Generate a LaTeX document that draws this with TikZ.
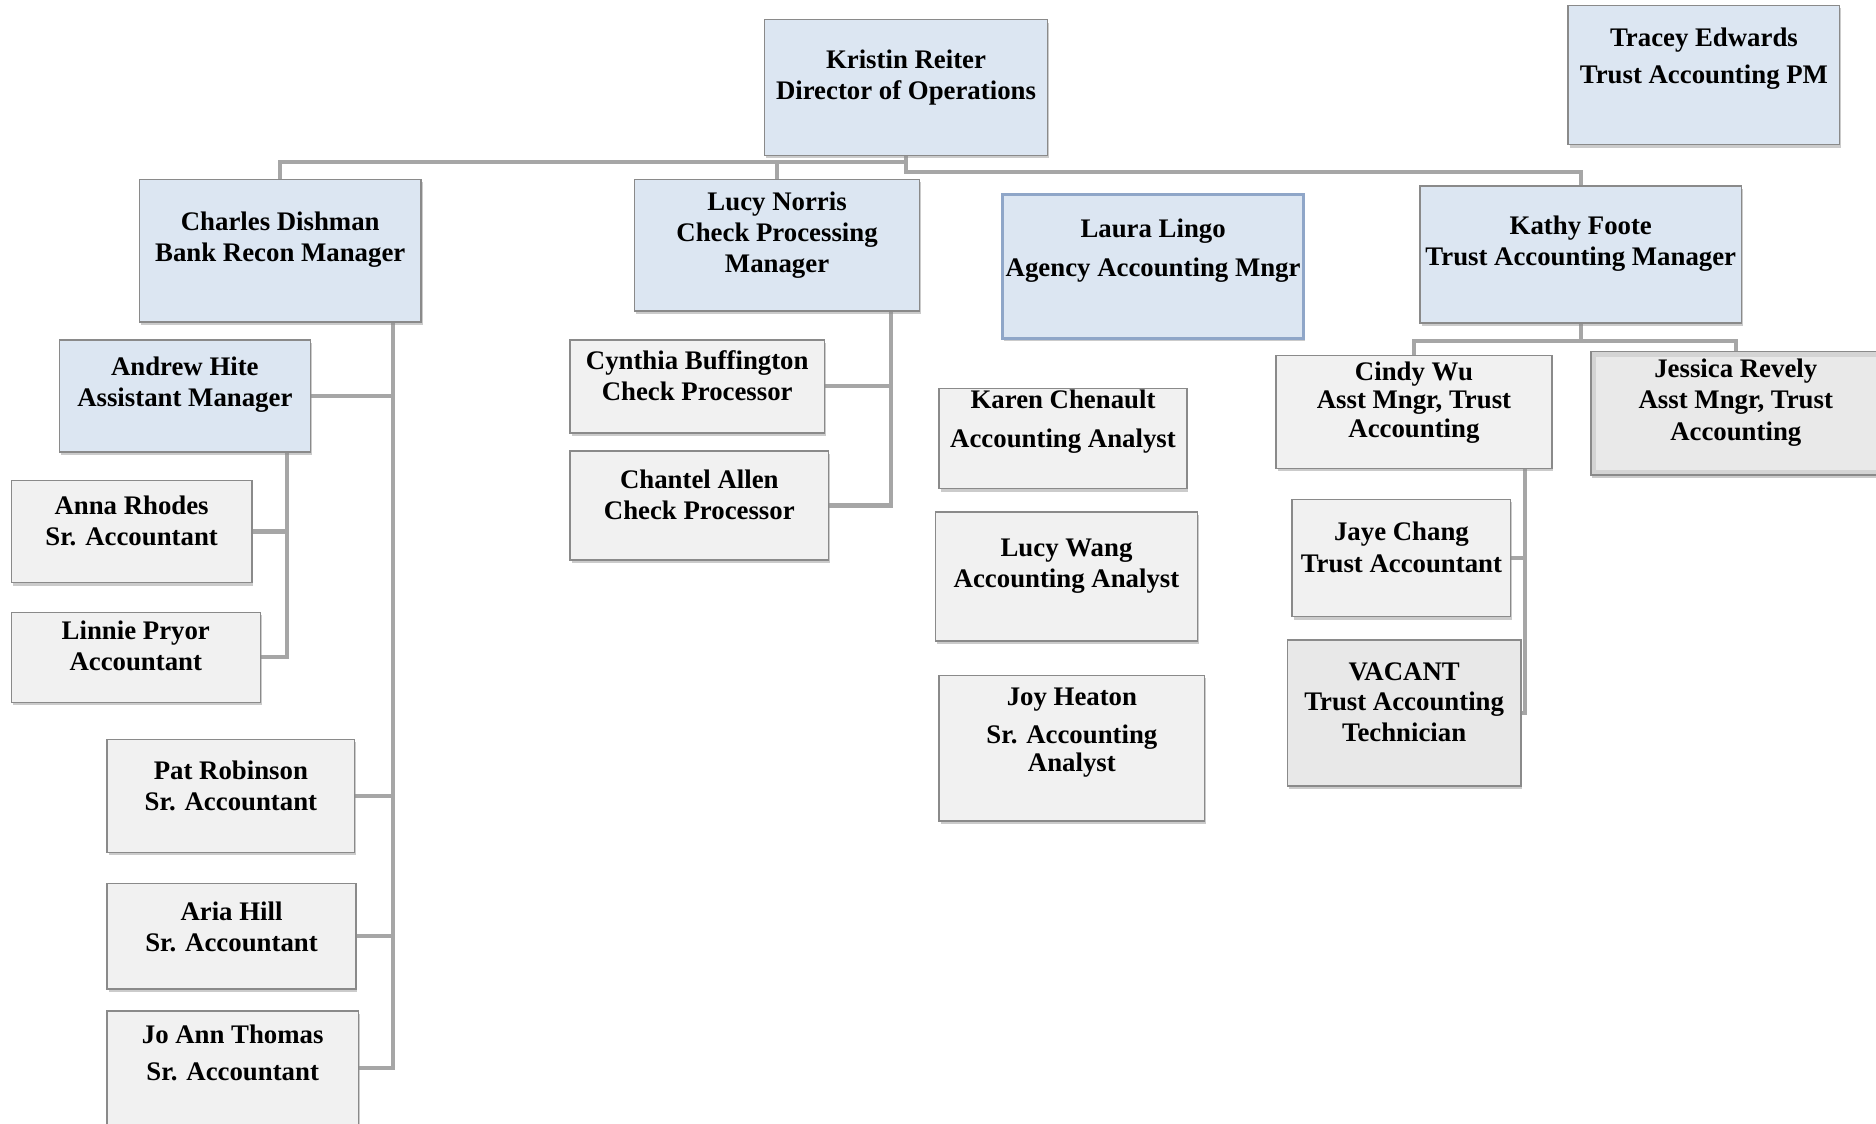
\documentclass[tikz,border=0pt]{standalone}
\usepackage{fontspec}
\setmainfont{Liberation Serif}
\usetikzlibrary{shadows,backgrounds}
\definecolor{bluefill}{HTML}{DCE6F2}
\definecolor{grayfill}{HTML}{F1F1F1}
\definecolor{vacfill}{HTML}{E8E8E8}
\definecolor{jessband}{HTML}{D4D4D4}
\definecolor{jessin}{HTML}{E9E9E9}
\definecolor{boxline}{HTML}{8A8A8A}
\definecolor{lauraline}{HTML}{8FA6C8}
\definecolor{connline}{HTML}{A6A6A6}
\newcommand\orgbox[8]{%
  \node[#2, minimum width={(#5-#3)*0.5pt}, minimum height={(#6-#4)*0.5pt}]
    (#1) at ({(#3+#5)/2},{(#4+#6)/2}) {};
  \node[txt] (#1-t) at ({(#3+#5)/2},{#7+2.5}) {#8};
}
\begin{document}
\begin{tikzpicture}[x=0.5pt,y=-0.5pt,
  basebox/.style={rectangle, inner sep=0pt, draw=boxline, line width=0.6pt,
    drop shadow={shadow xshift=0.6pt, shadow yshift=-1.2pt, fill=black!45, opacity=0.45}},
  bluebox/.style={basebox, fill=bluefill},
  laurabox/.style={basebox, fill=bluefill, draw=lauraline, line width=1pt},
  graybox/.style={basebox, fill=grayfill},
  vacbox/.style={basebox, fill=vacfill},
  jessbox/.style={basebox, fill=jessband,
    path picture={\fill[jessin] ([xshift=2.2pt,yshift=-2.2pt]path picture bounding box.north west)
      rectangle ([xshift=-2.2pt,yshift=2.2pt]path picture bounding box.south east);}},
  txt/.style={align=center, inner sep=0pt, font=\fontsize{11.2}{13}\selectfont\bfseries},
  conn/.style={draw=connline, line width=1.7pt, line join=miter}]
\useasboundingbox (0,0) rectangle (1568,939);

\orgbox{kristin}{bluebox}{639}{16.5}{875.5}{130}{62}{Kristin Reiter\\Director of Operations}
\orgbox{tracey}{bluebox}{1310.7}{4.5}{1537.7}{121}{46.5}{Tracey Edwards\\[2.5pt]Trust Accounting PM}
\orgbox{charles}{bluebox}{116.5}{150}{352}{269}{198}{Charles Dishman\\Bank Recon Manager}
\orgbox{lucyn}{bluebox}{530.5}{150}{768.5}{260}{194}{Lucy Norris\\Check Processing\\Manager}
\orgbox{laura}{laurabox}{838}{162.7}{1089.6}{283}{207}{Laura Lingo\\[3pt]Agency Accounting Mngr}
\orgbox{kathy}{bluebox}{1187}{155.5}{1455.5}{270}{201}{Kathy Foote\\Trust Accounting Manager}
\orgbox{andrew}{bluebox}{49.5}{284}{259.5}{377.6}{319}{Andrew Hite\\Assistant Manager}
\orgbox{anna}{graybox}{9.5}{401.5}{210.5}{487}{433}{Anna Rhodes\\Sr. Accountant}
\orgbox{linnie}{graybox}{9.5}{512}{217.5}{587}{537.5}{Linnie Pryor\\Accountant}
\orgbox{pat}{graybox}{89.5}{618}{296.5}{712.5}{654}{Pat Robinson\\Sr. Accountant}
\orgbox{aria}{graybox}{89.5}{738.5}{297.5}{826.7}{772}{Aria Hill\\Sr. Accountant}
\orgbox{joann}{graybox}{89.5}{845}{299.5}{941}{877.5}{Jo Ann Thomas\\[2.5pt]Sr. Accountant}
\orgbox{cynthia}{graybox}{476.5}{284}{689}{362}{311.5}{Cynthia Buffington\\Check Processor}
\orgbox{chantel}{graybox}{476.5}{377}{692.5}{468}{411}{Chantel Allen\\Check Processor}
\orgbox{karen}{graybox}{785}{324.5}{992}{408.4}{350}{Karen Chenault\\[3pt]Accounting Analyst}
\orgbox{lucyw}{graybox}{782}{427.8}{1000.8}{535.6}{471}{Lucy Wang\\Accounting Analyst}
\orgbox{joy}{graybox}{785}{564.4}{1006.8}{686.2}{609.5}{Joy Heaton\\[3pt]Sr. Accounting\\[-1.5pt]Analyst}
\orgbox{cindy}{graybox}{1066.6}{297}{1297}{391.6}{334}{Cindy Wu\\[-1pt]Asst Mngr, Trust\\[-1pt]Accounting}
\orgbox{jessica}{jessbox}{1329.6}{294}{1572}{397}{334}{Jessica Revely\\Asst Mngr, Trust\\Accounting}
\orgbox{jaye}{graybox}{1080}{417.3}{1262.7}{515.5}{455}{Jaye Chang\\Trust Accountant}
\orgbox{vacant}{vacbox}{1076}{535}{1271.2}{657}{584.5}{VACANT\\[-0.5pt]Trust Accounting\\Technician}

\coordinate (ctr) at (328.5,269);
\coordinate (atr) at (239.5,377.6);
\coordinate (ltr) at (745,260);
\coordinate (wtr) at (1274.7,391.6);

\begin{pgfonlayer}{background}
\draw[conn] (kristin.south) -- ++(0,5) -| (charles.north);
\draw[conn] (kristin.south) -- ++(0,13) -| (kathy.north);
\draw[conn] (lucyn.north) -- ++(0,-15);
\draw[conn] (ctr) |- (joann.east);
\draw[conn] (andrew.east) -- (andrew.east -| ctr);
\draw[conn] (pat.east) -- (pat.east -| ctr);
\draw[conn] (aria.east) -- (aria.east -| ctr);
\draw[conn] (atr) |- (linnie.east);
\draw[conn] (anna.east) -- (anna.east -| atr);
\draw[conn] (ltr) |- (chantel.east);
\draw[conn] (cynthia.east) -- (cynthia.east -| ltr);
\draw[conn] (wtr) |- (vacant.east);
\draw[conn] (jaye.east) -- (jaye.east -| wtr);
\draw[conn] (kathy.south) -- ++(0,14.5) coordinate (kj);
\draw[conn] (cindy.north) |- (kj) -| (jessica.north);
\end{pgfonlayer}
\end{tikzpicture}
\end{document}
